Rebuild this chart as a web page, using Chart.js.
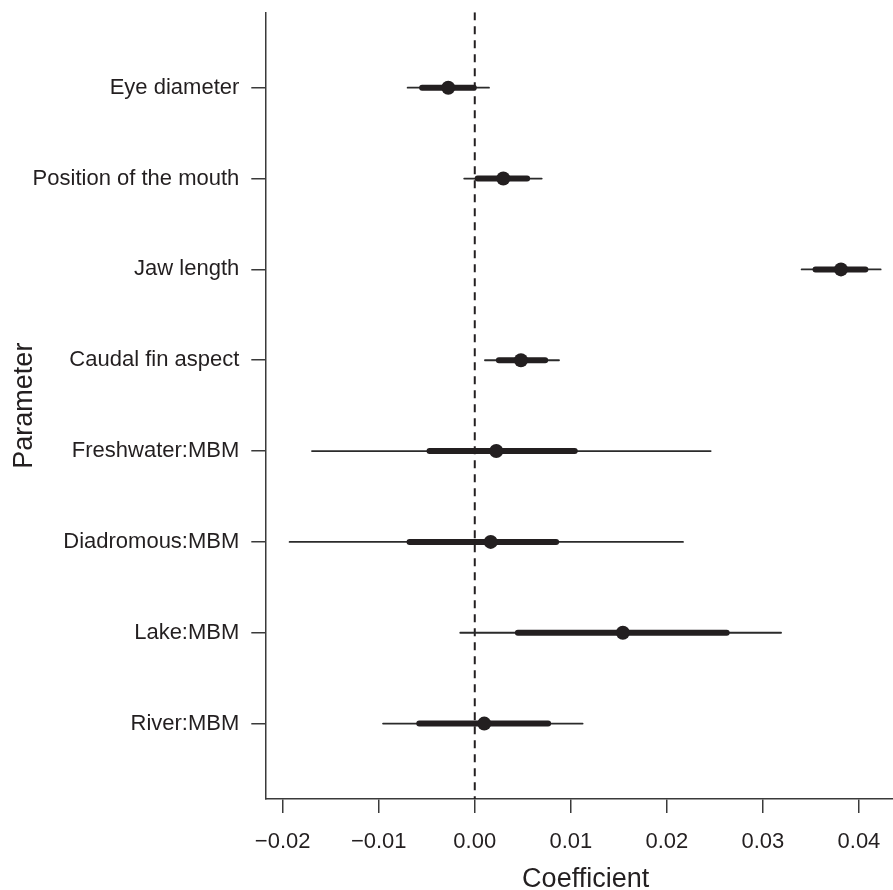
<!DOCTYPE html>
<html>
<head>
<meta charset="utf-8">
<script src="https://cdn.jsdelivr.net/npm/chart.js@4.4.1/dist/chart.umd.min.js"></script>
<style>
  html, body { margin: 0; padding: 0; background: #ffffff; overflow: hidden; width: 893px; height: 890px; }
  #c { display: block; }
</style>
</head>
<body>
<canvas id="c" width="906" height="890"></canvas>
<script>
// ---- data ----
const categories = ['Eye diameter', 'Position of the mouth', 'Jaw length', 'Caudal fin aspect',
                    'Freshwater:MBM', 'Diadromous:MBM', 'Lake:MBM', 'River:MBM'];
const estimate  = [-0.00276, 0.00297, 0.03813, 0.00481, 0.00224, 0.00166, 0.01542, 0.00099];
const innerLow  = [-0.00548, 0.00030, 0.03548, 0.00251, -0.00471, -0.00679, 0.00449, -0.00578];
const innerHigh = [-0.00010, 0.00545, 0.04067, 0.00733, 0.01041, 0.00847, 0.02623, 0.00764];
const outerLow  = [-0.00699, -0.00110, 0.03403, 0.00106, -0.01695, -0.01928, -0.00151, -0.00955];
const outerHigh = [0.00148, 0.00697, 0.04226, 0.00877, 0.02456, 0.02168, 0.03189, 0.01123];
const xTicks = [-0.02, -0.01, 0.00, 0.01, 0.02, 0.03, 0.04];
const refLine = 0;

const INK = '#231f20';
const FONT = '"Liberation Sans", Arial, Helvetica, sans-serif';

const datasets = [];
// dashed reference line at zero
datasets.push({
  type: 'line',
  data: [{x: refLine, y: 0.17}, {x: refLine, y: 8.83}],
  borderColor: INK, borderWidth: 2, borderDash: [8, 6],
  pointRadius: 0, fill: false, order: 5
});
categories.forEach((c, i) => {
  datasets.push({
    type: 'line',
    data: [{x: outerLow[i], y: i + 1}, {x: outerHigh[i], y: i + 1}],
    borderColor: '#2b2b2b', borderWidth: 1.8, borderCapStyle: 'round',
    pointRadius: 0, fill: false, order: 4
  });
  datasets.push({
    type: 'line',
    data: [{x: innerLow[i], y: i + 1}, {x: innerHigh[i], y: i + 1}],
    borderColor: INK, borderWidth: 6, borderCapStyle: 'round',
    pointRadius: 0, fill: false, order: 3
  });
});
datasets.push({
  type: 'scatter',
  data: estimate.map((v, i) => ({x: v, y: i + 1})),
  backgroundColor: INK, borderWidth: 0, pointRadius: 7, pointHoverRadius: 7,
  order: 1
});

new Chart(document.getElementById('c'), {
  type: 'scatter',
  data: { datasets },
  options: {
    responsive: false,
    animation: false,
    devicePixelRatio: 1,
    events: [],
    layout: { autoPadding: false, padding: { top: 12.3, right: 0, bottom: 0, left: 0 } },
    plugins: { legend: { display: false }, tooltip: { enabled: false } },
    scales: {
      x: {
        type: 'linear', position: 'bottom',
        min: -0.02181, max: 0.0449,
        afterBuildTicks: (s) => { s.ticks = xTicks.map(v => ({value: v})); },
        afterFit: (s) => { s.height = 91; s.paddingLeft = 0; s.paddingRight = 0; },
        ticks: {
          color: INK, font: { family: FONT, size: 22 }, padding: 16,
          maxRotation: 0, autoSkip: false,
          callback: (v) => (v < 0 ? '\u2212' : '') + Math.abs(v).toFixed(2)
        },
        grid: { drawOnChartArea: false, drawTicks: true, tickLength: 14,
                color: '#3a3a3a', lineWidth: 1.5 },
        border: { display: true, color: '#3a3a3a', width: 1.5 },
        title: { display: true, text: 'Coefficient', color: INK,
                 font: { family: FONT, size: 27, lineHeight: 1 },
                 padding: { top: 0, bottom: -3 } }
      },
      y: {
        type: 'linear', position: 'left', reverse: true,
        min: 0.17, max: 8.83,
        afterBuildTicks: (s) => { s.ticks = categories.map((c, i) => ({value: i + 1})); },
        afterFit: (s) => { s.width = 265.3; s.paddingTop = 0; s.paddingBottom = 0; },
        ticks: {
          color: INK, font: { family: FONT, size: 22 }, padding: 12, autoSkip: false,
          callback: (v) => categories[Math.round(v) - 1]
        },
        grid: { drawOnChartArea: false, drawTicks: true, tickLength: 14,
                color: '#3a3a3a', lineWidth: 1.5 },
        border: { display: true, color: '#3a3a3a', width: 1.5 },
        title: { display: true, text: 'Parameter', color: INK,
                 font: { family: FONT, size: 27, lineHeight: 1 },
                 padding: { top: 11.5, bottom: 0 } }
      }
    }
  }
});
</script>
</body>
</html>
